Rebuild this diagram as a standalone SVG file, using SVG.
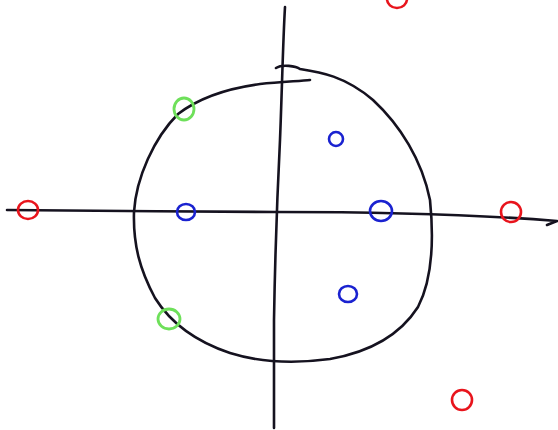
<svg xmlns="http://www.w3.org/2000/svg" width="558" height="430" viewBox="0 0 558 430">
<style>
.ink{fill:none;stroke:#15121f;stroke-width:2.6;stroke-linecap:round;stroke-linejoin:round}
.r{fill:none;stroke:#e8141c;stroke-width:2.6}
.b{fill:none;stroke:#1a22d0;stroke-width:2.6}
.g{fill:none;stroke:#6ee05a;stroke-width:2.8}
</style>
<rect width="558" height="430" fill="#ffffff"/>
<g id="axes">
<path class="ink" d="M7,210 C60,210 200,212 276,212 C380,212 470,214 557,221 M557,221 L547,225"/>
<path class="ink" d="M285,7 C283,40 282,90 280,140 C277,200 275,260 274,320 C274,370 274,400 274,428"/>
</g>
<g id="circle">
<path class="ink" d="M276,68 C282,64 296,66 300,69 C320,72 345,76 373,100 C400,125 422,160 430,200 C434,240 432,280 418,307 C400,335 370,352 330,359 C300,363 265,364 230,353 C200,343 172,325 155,298 C140,270 133,245 134,212 C136,178 154,138 178,114 C200,97 230,88 260,84 C280,82 300,81 310,80"/>
</g>
<g id="markers">
<ellipse class="r" cx="28" cy="210" rx="10" ry="9"/>
<ellipse class="r" cx="511" cy="212" rx="10" ry="10"/>
<ellipse class="r" cx="462" cy="400" rx="10" ry="10"/>
<ellipse class="r" cx="397" cy="-1" rx="10" ry="9"/>
<ellipse class="b" cx="186" cy="212" rx="9" ry="8"/>
<ellipse class="b" cx="381" cy="211" rx="11" ry="10"/>
<ellipse class="b" cx="336" cy="139" rx="7" ry="7"/>
<ellipse class="b" cx="348" cy="294" rx="9" ry="8"/>
<ellipse class="g" cx="184" cy="109" rx="10" ry="11"/>
<ellipse class="g" cx="169" cy="319" rx="11" ry="10"/>
</g>
</svg>
